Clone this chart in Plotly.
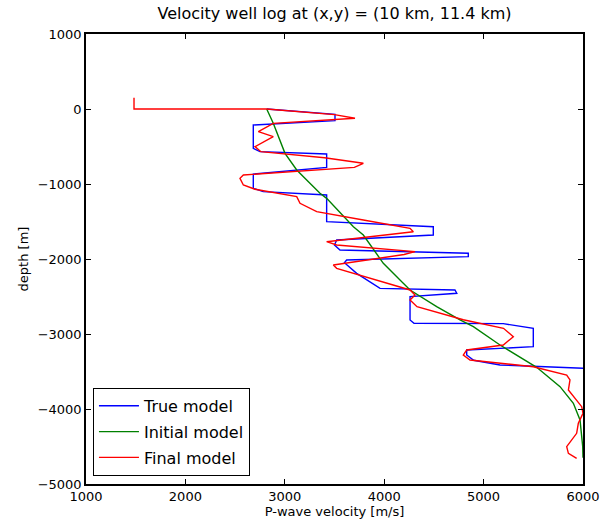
import plotly.graph_objects as go

# True model (blocky)
true_v = [2818, 3505, 3505, 2683, 2683, 2750, 3421, 3421, 2683, 2683, 2783, 3421, 3421, 4494, 4494,
          3522, 3500, 3555, 4846, 4846, 3622, 3600, 3723, 3924, 3958, 4712, 4730, 4260, 4260, 4300,
          5198, 5500, 5500, 4830, 4830, 4900, 5165, 6000, 6600, 6600]
true_d = [0, -71, -156, -213, -524, -569, -600, -778, -867, -1058, -1102, -1147, -1502, -1569, -1680,
          -1747, -1813, -1880, -1924, -1969, -2013, -2050, -2191, -2369, -2391, -2413, -2457, -2502, -2813, -2857,
          -2862, -2924, -3169, -3213, -3280, -3350, -3413, -3457, -3470, -4700]

# Initial model (smooth)
init_v = [2818, 2884, 3002, 3120, 3220, 3354, 3421, 3690, 3790, 3991, 4159, 4260, 4528, 4763, 4897,
          5165, 5534, 5769, 5903, 5970, 5997, 6000]
init_d = [0, -191, -591, -813, -947, -1124, -1191, -1569, -1680, -2057, -2280, -2413, -2636, -2813, -2902,
          -3147, -3444, -3702, -3924, -4147, -4500, -4650]

# Final (inverted) model
final_v = [1483, 1483, 2818, 3500, 3706, 2884, 2734, 2884, 2700, 2760, 3400, 3790, 3700, 2583, 2549,
           2583, 2700, 3120, 3153, 3321, 3790, 4260, 4293, 3421, 3522, 4310, 4200, 3488, 3522, 3924,
           4260, 4310, 4260, 4330, 4796, 5200, 5299, 5198, 4830, 4796, 4863, 5500, 5836, 5869, 5853,
           5987, 6000, 5953, 5936, 5836, 5853, 5936]
final_d = [150, 0, 0, -75, -124, -191, -302, -369, -502, -569, -650, -724, -778, -880, -924,
           -1013, -1070, -1169, -1257, -1369, -1480, -1591, -1636, -1769, -1813, -1902, -1940, -2080, -2124, -2280,
           -2413, -2480, -2547, -2636, -2810, -2924, -3036, -3147, -3213, -3280, -3347, -3436, -3547, -3613, -3747,
           -3969, -4057, -4191, -4324, -4502, -4591, -4657]

x_ticks = [1000, 2000, 3000, 4000, 5000, 6000]
y_ticks = [-5000, -4000, -3000, -2000, -1000, 0, 1000]

FONT = "DejaVu Sans"

fig = go.Figure()
fig.add_trace(go.Scatter(x=true_v, y=true_d, mode="lines", name="True model",
                         line=dict(color="#0000ff", width=1.4), legendgroup="a"))
fig.add_trace(go.Scatter(x=init_v, y=init_d, mode="lines", name="Initial model",
                         line=dict(color="#008000", width=1.4), legendgroup="b"))
fig.add_trace(go.Scatter(x=final_v, y=final_d, mode="lines", name="Final model",
                         line=dict(color="#ff0000", width=1.4), legendgroup="c"))

axis_common = dict(showgrid=False, zeroline=False, showline=True, linecolor="black", linewidth=1.5,
                   mirror="ticks", ticks="inside", ticklen=5, tickcolor="black", automargin=False,
                   tickfont=dict(family=FONT, size=13, color="black"))

fig.update_layout(
    width=609, height=521,
    margin=dict(l=86, r=26, t=34, b=37),
    paper_bgcolor="white", plot_bgcolor="white",
    font=dict(family=FONT, color="black"),
    title=dict(text="Velocity well log at (x,y) = (10 km, 11.4 km)", x=(86 + 583) / 2 / 609, xanchor="center",
               y=1 - 13 / 521, yanchor="middle", font=dict(family=FONT, size=16, color="black")),
    xaxis=dict(range=[1000, 6000], tickvals=x_ticks, ticktext=[str(v) for v in x_ticks],
               title=dict(text="P-wave velocity [m/s]", font=dict(family=FONT, size=13), standoff=4),
               **axis_common),
    yaxis=dict(range=[-5000, 1000], tickvals=y_ticks,
               title=dict(text="depth [m]", font=dict(family=FONT, size=13), standoff=6),
               **axis_common),
    legend=dict(x=0.014, y=0.018, xanchor="left", yanchor="bottom", bgcolor="white",
                bordercolor="black", borderwidth=1, font=dict(family=FONT, size=16),
                traceorder="grouped", tracegroupgap=2, itemwidth=40),
    showlegend=True,
)

fig.write_html("out.html")
